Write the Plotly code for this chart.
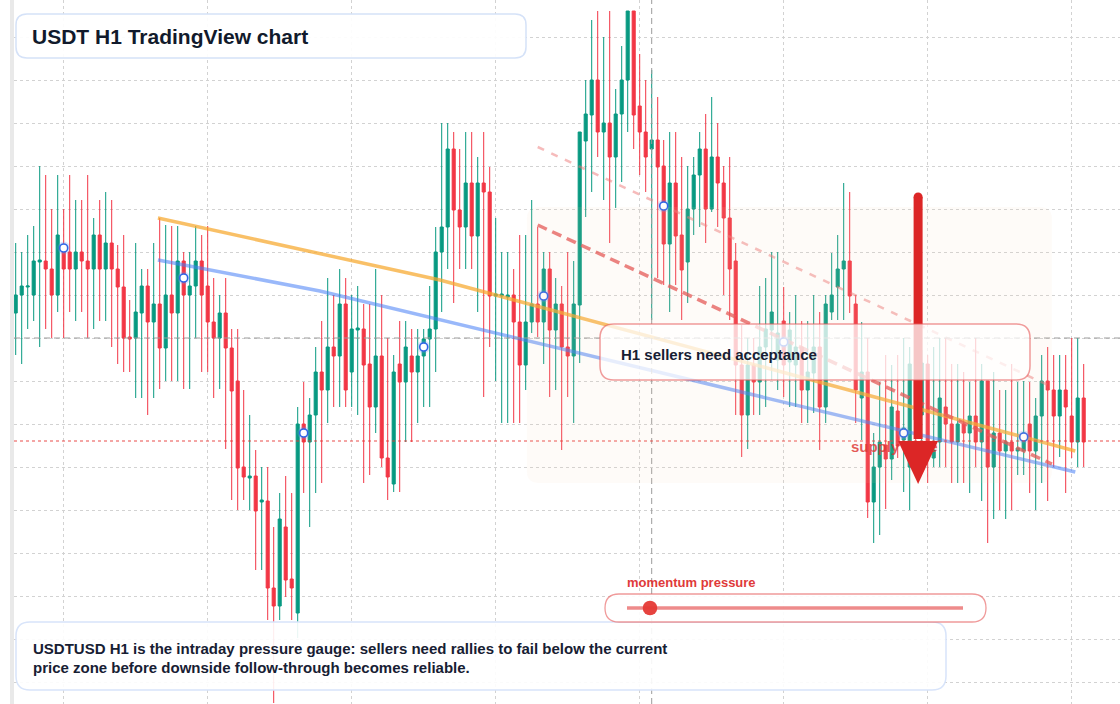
import plotly.graph_objects as go

W, H = 1120, 704
ML = 14  # left margin in px (gray strip sits left of the plot)

# ---------------- data (USDT/USD, H1 bars) ----------------
OPEN = [0.999687,0.999705,0.999713,0.999705,0.999738,0.999739,0.999731,0.999705,0.999748,0.999748,
        0.999731,0.999748,0.999739,0.999731,0.999765,0.999731,0.999757,0.999731,0.999713,0.999663,
        0.999662,0.999687,0.999714,0.999678,0.999696,0.999652,0.999705,0.999687,0.999739,0.999705,
        0.999714,0.999739,0.999714,0.999678,0.999662,0.999687,0.999652,0.999619,0.999533,0.999522,
        0.999524,0.999498,0.999499,0.999412,0.999394,0.999473,0.999421,0.999387,0.999576,0.999558,
        0.999585,0.999628,0.999610,0.999653,0.999644,0.999696,0.999628,0.999670,0.999671,0.999636,
        0.999593,0.999644,0.999542,0.999516,0.999636,0.999618,0.999644,0.999628,0.999644,0.999661,
        0.999671,0.999748,0.999773,0.999851,0.999790,0.999773,0.999817,0.999764,0.999817,0.999808,
        0.999704,0.999704,0.999703,0.999705,0.999678,0.999635,0.999678,0.999696,0.999678,0.999731,
        0.999670,0.999696,0.999653,0.999644,0.999695,0.999859,0.999885,0.999920,0.999868,0.999877,
        0.999843,0.999886,0.999920,0.999989,0.999894,0.999868,0.999851,0.999860,0.999834,0.999756,
        0.999817,0.999765,0.999738,0.999791,0.999825,0.999851,0.999791,0.999843,0.999817,0.999782,
        0.999739,0.999635,0.999585,0.999635,0.999618,0.999653,0.999670,0.999640,0.999679,0.999638,
        0.999635,0.999653,0.999610,0.999627,0.999653,0.999593,0.999688,0.999713,0.999731,0.999739,
        0.999696,0.999602,0.999628,0.999498,0.999533,0.999555,0.999541,0.999589,0.999560,0.999533,
        0.999620,0.999585,0.999636,0.999542,0.999558,0.999593,0.999576,0.999558,0.999576,0.999567,
        0.999584,0.999558,0.999619,0.999533,0.999567,0.999549,0.999558,0.999549,0.999549,0.999576,
        0.999549,0.999584,0.999619,0.999610,0.999584,0.999610,0.999584,0.999558,0.999602]
HIGH = [0.999757,0.999748,0.999765,0.999774,0.999834,0.999825,0.999791,0.999825,0.999791,0.999825,
        0.999800,0.999800,0.999825,0.999782,0.999800,0.999808,0.999800,0.999755,0.999765,0.999700,
        0.999757,0.999731,0.999731,0.999757,0.999782,0.999775,0.999774,0.999774,0.999748,0.999748,
        0.999774,0.999765,0.999774,0.999722,0.999705,0.999722,0.999671,0.999671,0.999610,0.999585,
        0.999550,0.999533,0.999533,0.999473,0.999507,0.999524,0.999507,0.999593,0.999618,0.999602,
        0.999653,0.999679,0.999722,0.999705,0.999731,0.999722,0.999705,0.999714,0.999696,0.999696,
        0.999731,0.999705,0.999662,0.999645,0.999679,0.999679,0.999671,0.999671,0.999671,0.999714,
        0.999773,0.999877,0.999877,0.999868,0.999851,0.999868,0.999868,0.999843,0.999868,0.999833,
        0.999782,0.999748,0.999748,0.999731,0.999765,0.999765,0.999800,0.999773,0.999748,0.999748,
        0.999722,0.999714,0.999748,0.999739,0.999868,0.999920,0.999980,0.999989,0.999963,0.999989,
        0.999911,0.999954,0.999989,0.999989,0.999946,0.999920,0.999930,0.999903,0.999860,0.999868,
        0.999868,0.999843,0.999834,0.999843,0.999868,0.999886,0.999903,0.999877,0.999834,0.999843,
        0.999757,0.999675,0.999662,0.999662,0.999714,0.999722,0.999748,0.999748,0.999713,0.999688,
        0.999705,0.999679,0.999679,0.999705,0.999688,0.999705,0.999747,0.999765,0.999817,0.999808,
        0.999705,0.999678,0.999662,0.999567,0.999618,0.999645,0.999635,0.999645,0.999662,0.999653,
        0.999660,0.999650,0.999645,0.999653,0.999662,0.999662,0.999636,0.999636,0.999628,0.999618,
        0.999662,0.999636,0.999619,0.999628,0.999610,0.999610,0.999636,0.999618,0.999619,0.999618,
        0.999602,0.999645,0.999653,0.999645,0.999645,0.999645,0.999662,0.999662,0.999636]
LOW = [0.999645,0.999636,0.999671,0.999679,0.999653,0.999671,0.999662,0.999688,0.999662,0.999688,
       0.999679,0.999688,0.999662,0.999671,0.999679,0.999679,0.999653,0.999636,0.999628,0.999628,
       0.999602,0.999602,0.999585,0.999602,0.999611,0.999619,0.999619,0.999619,0.999611,0.999611,
       0.999662,0.999628,0.999628,0.999602,0.999611,0.999551,0.999500,0.999490,0.999500,0.999490,
       0.999430,0.999430,0.999380,0.999297,0.999380,0.999403,0.999380,0.999362,0.999507,0.999473,
       0.999507,0.999517,0.999577,0.999593,0.999593,0.999593,0.999593,0.999585,0.999517,0.999525,
       0.999567,0.999533,0.999500,0.999508,0.999508,0.999558,0.999558,0.999577,0.999593,0.999593,
       0.999628,0.999688,0.999731,0.999697,0.999731,0.999731,0.999731,0.999688,0.999603,0.999653,
       0.999619,0.999577,0.999577,0.999577,0.999577,0.999610,0.999667,0.999663,0.999636,0.999603,
       0.999610,0.999550,0.999603,0.999577,0.999637,0.999783,0.999808,0.999843,0.999800,0.999757,
       0.999792,0.999818,0.999868,0.999851,0.999825,0.999808,0.999680,0.999722,0.999715,0.999688,
       0.999715,0.999680,0.999697,0.999765,0.999773,0.999757,0.999788,0.999773,0.999705,0.999680,
       0.999585,0.999543,0.999551,0.999585,0.999585,0.999593,0.999620,0.999610,0.999603,0.999593,
       0.999593,0.999577,0.999577,0.999587,0.999550,0.999577,0.999680,0.999680,0.999680,0.999687,
       0.999577,0.999560,0.999482,0.999457,0.999465,0.999491,0.999520,0.999542,0.999508,0.999490,
       0.999530,0.999533,0.999517,0.999533,0.999533,0.999533,0.999517,0.999517,0.999517,0.999507,
       0.999533,0.999499,0.999457,0.999481,0.999490,0.999481,0.999490,0.999525,0.999525,0.999507,
       0.999490,0.999517,0.999499,0.999533,0.999543,0.999507,0.999542,0.999533,0.999533]
CLOSE = [0.999705,0.999714,0.999714,0.999739,0.999740,0.999731,0.999705,0.999765,0.999731,0.999731,
         0.999748,0.999739,0.999731,0.999765,0.999731,0.999757,0.999731,0.999713,0.999662,0.999661,
         0.999688,0.999714,0.999678,0.999696,0.999652,0.999705,0.999687,0.999739,0.999705,0.999714,
         0.999739,0.999705,0.999678,0.999662,0.999687,0.999652,0.999609,0.999532,0.999523,0.999524,
         0.999489,0.999500,0.999412,0.999394,0.999481,0.999420,0.999412,0.999576,0.999558,0.999585,
         0.999628,0.999610,0.999653,0.999644,0.999696,0.999610,0.999671,0.999672,0.999635,0.999593,
         0.999644,0.999542,0.999523,0.999628,0.999618,0.999653,0.999628,0.999644,0.999661,0.999671,
         0.999748,0.999773,0.999851,0.999790,0.999773,0.999817,0.999764,0.999817,0.999808,0.999704,
         0.999706,0.999706,0.999705,0.999678,0.999635,0.999678,0.999696,0.999678,0.999731,0.999670,
         0.999696,0.999653,0.999644,0.999696,0.999868,0.999886,0.999920,0.999868,0.999877,0.999843,
         0.999886,0.999920,0.999989,0.999885,0.999868,0.999843,0.999860,0.999833,0.999756,0.999817,
         0.999764,0.999730,0.999791,0.999825,0.999851,0.999791,0.999843,0.999817,0.999782,0.999731,
         0.999635,0.999585,0.999635,0.999618,0.999653,0.999671,0.999688,0.999667,0.999635,0.999670,
         0.999653,0.999610,0.999628,0.999653,0.999593,0.999696,0.999705,0.999731,0.999739,0.999704,
         0.999610,0.999628,0.999498,0.999533,0.999558,0.999541,0.999593,0.999554,0.999572,0.999636,
         0.999580,0.999637,0.999555,0.999550,0.999602,0.999576,0.999558,0.999576,0.999567,0.999584,
         0.999558,0.999619,0.999533,0.999567,0.999549,0.999558,0.999549,0.999552,0.999567,0.999549,
         0.999584,0.999619,0.999610,0.999584,0.999610,0.999593,0.999558,0.999602,0.999558]
BARS = list(range(len(OPEN)))

MARK_BARS = [8, 28, 48, 68, 88, 108, 128, 148, 168]
MARK_PRICE = [0.999752, 0.999722, 0.999567, 0.999653, 0.999704, 0.999794, 0.999658, 0.999567, 0.999563]

ORANGE_X = [23.7, 70.7, 176.6]
ORANGE_Y = [0.999782, 0.999720, 0.999549]
BLUE_X = [23.7, 50.7, 176.6]
BLUE_Y = [0.999740, 0.999709, 0.999528]
CHAN_X = [87.0, 172.7]
CHAN_LOW = [0.999775, 0.999536]
CHAN_HIGH = [0.999853, 0.999613]

CROSS_BAR = 106
CROSS_PRICE = 0.999662
SUPPORT_PRICE = 0.999559
ZONE_X = [85.2, 172.7]
ZONE_Y = [0.999517, 0.999793]
ARROW_BAR = 150.4
ARROW_FROM = 0.999803
ARROW_HEAD = 0.999559
ARROW_TIP = 0.999516

X_RANGE = [-0.2833, 184.05]
Y_RANGE = [0.999296, 1.000000]

FONT = "Liberation Sans, Arial, sans-serif"
UP, DOWN = "#089981", "#f23645"

# ---------------- helpers (pixel -> paper) ----------------
PW = W - ML
def PX(x):
    return (x - ML) / PW
def PY(y):
    return 1 - y / H

def rrect(xl, xr, yb, yt, rx, ry):
    return (f"M {xl+rx},{yt} L {xr-rx},{yt} Q {xr},{yt} {xr},{yt-ry} "
            f"L {xr},{yb+ry} Q {xr},{yb} {xr-rx},{yb} L {xl+rx},{yb} "
            f"Q {xl},{yb} {xl},{yb+ry} L {xl},{yt-ry} Q {xl},{yt} {xl+rx},{yt} Z")

def rrect_px(x0, y0, x1, y1, r):
    return rrect(PX(x0), PX(x1), PY(y1), PY(y0), r / PW, r / H)

fig = go.Figure()

fig.add_trace(go.Candlestick(
    x=BARS, open=OPEN, high=HIGH, low=LOW, close=CLOSE,
    increasing=dict(line=dict(color=UP, width=1), fillcolor=UP),
    decreasing=dict(line=dict(color=DOWN, width=1), fillcolor=DOWN),
    whiskerwidth=0, showlegend=False, hoverinfo="skip"))

fig.add_trace(go.Scatter(x=ORANGE_X, y=ORANGE_Y, mode="lines",
                         line=dict(color="rgba(247,168,45,0.72)", width=3.5),
                         showlegend=False, hoverinfo="skip"))
fig.add_trace(go.Scatter(x=BLUE_X, y=BLUE_Y, mode="lines",
                         line=dict(color="rgba(70,125,245,0.55)", width=3.5),
                         showlegend=False, hoverinfo="skip"))
fig.add_trace(go.Scatter(x=CHAN_X, y=CHAN_LOW, mode="lines",
                         line=dict(color="rgba(228,80,80,0.75)", width=3.5, dash="10px,6px"),
                         showlegend=False, hoverinfo="skip"))
fig.add_trace(go.Scatter(x=CHAN_X, y=CHAN_HIGH, mode="lines",
                         line=dict(color="rgba(238,120,120,0.5)", width=2.5, dash="7px,8px"),
                         showlegend=False, hoverinfo="skip"))

fig.add_trace(go.Scatter(x=MARK_BARS, y=MARK_PRICE, mode="markers",
                         marker=dict(size=13, color="rgba(110,150,245,0.25)", line=dict(width=0)),
                         showlegend=False, hoverinfo="skip"))
fig.add_trace(go.Scatter(x=MARK_BARS, y=MARK_PRICE, mode="markers",
                         marker=dict(size=8, color="white", line=dict(color="#2f66e8", width=1.6)),
                         showlegend=False, hoverinfo="skip"))

fig.add_trace(go.Scatter(x=[139.2], y=[0.999552], mode="text", text=["<b>supply zone</b>"],
                         textposition="middle right",
                         textfont=dict(family=FONT, size=15, color="rgba(220,38,38,0.82)"),
                         showlegend=False, hoverinfo="skip"))

shapes = []
# gray strip at left
shapes.append(dict(type="rect", xref="paper", yref="paper", x0=PX(10), x1=PX(14), y0=0, y1=1,
                   fillcolor="#e9e9e9", line=dict(width=0), layer="below"))
# crosshair + support line
shapes.append(dict(type="line", xref="paper", yref="y", x0=0, x1=1, y0=CROSS_PRICE, y1=CROSS_PRICE,
                   line=dict(color="#9c9c9c", width=1, dash="6px,4px"), layer="above"))
shapes.append(dict(type="line", xref="x", yref="paper", x0=CROSS_BAR, x1=CROSS_BAR, y0=0, y1=1,
                   line=dict(color="#9c9c9c", width=1, dash="6px,4px"), layer="above"))
shapes.append(dict(type="line", xref="paper", yref="y", x0=0, x1=1, y0=SUPPORT_PRICE, y1=SUPPORT_PRICE,
                   line=dict(color="rgba(229,57,53,0.9)", width=1.2, dash="dot"), layer="above"))
# supply zone
shapes.append(dict(type="path", xref="x", yref="y",
                   path=rrect(ZONE_X[0], ZONE_X[1], ZONE_Y[0], ZONE_Y[1], 2.0, 12e-6),
                   fillcolor="rgba(245,212,180,0.09)", line=dict(width=0), layer="above"))
# arrow
shapes.append(dict(type="line", xref="x", yref="y", x0=ARROW_BAR, x1=ARROW_BAR,
                   y0=ARROW_FROM, y1=ARROW_HEAD + 2e-6,
                   line=dict(color="#dc2626", width=9), layer="above"))
shapes.append(dict(type="circle", xref="x", yref="y", x0=ARROW_BAR - 0.75, x1=ARROW_BAR + 0.75,
                   y0=ARROW_FROM - 4.5e-6, y1=ARROW_FROM + 4.5e-6,
                   fillcolor="#dc2626", line=dict(width=0), layer="above"))
shapes.append(dict(type="path", xref="x", yref="y",
                   path=f"M {ARROW_BAR-3.33},{ARROW_HEAD} L {ARROW_BAR+3.33},{ARROW_HEAD} L {ARROW_BAR},{ARROW_TIP} Z",
                   fillcolor="#dc2626", line=dict(width=0), layer="above"))
# title box
shapes.append(dict(type="path", xref="paper", yref="paper", path=rrect_px(16, 14, 526, 58, 11),
                   fillcolor="rgba(255,255,255,0.92)", line=dict(color="#d5e2f8", width=1.5), layer="above"))
# bottom text box
shapes.append(dict(type="path", xref="paper", yref="paper", path=rrect_px(16, 622, 946, 690, 14),
                   fillcolor="rgba(255,255,255,0.9)", line=dict(color="#d8e4fa", width=1.5), layer="above"))
# H1 box
shapes.append(dict(type="path", xref="paper", yref="paper", path=rrect_px(600, 324, 1030, 380, 14),
                   fillcolor="rgba(255,255,255,0.74)", line=dict(color="rgba(230,90,90,0.6)", width=1.5),
                   layer="above"))
# momentum slider
shapes.append(dict(type="path", xref="paper", yref="paper", path=rrect_px(605, 594, 986, 622, 14),
                   fillcolor="rgba(255,255,255,0.9)", line=dict(color="rgba(232,100,100,0.65)", width=1.3),
                   layer="above"))
shapes.append(dict(type="line", xref="paper", yref="paper", x0=PX(627), x1=PX(963), y0=PY(608), y1=PY(608),
                   line=dict(color="rgba(234,110,110,0.8)", width=3.5), layer="above"))
shapes.append(dict(type="circle", xref="paper", yref="paper", x0=PX(650 - 7.3), x1=PX(650 + 7.3),
                   y0=PY(608 + 7.3), y1=PY(608 - 7.3), fillcolor="#e53935",
                   line=dict(width=0), opacity=0.95, layer="above"))

annotations = [
    dict(text="<b>USDT H1 TradingView chart</b>", x=PX(30), y=PY(36), xref="paper", yref="paper",
         xanchor="left", yanchor="middle", showarrow=False,
         font=dict(family=FONT, size=21, color="#111a2c")),
    dict(text="<b>USDTUSD H1 is the intraday pressure gauge: sellers need rallies to fail below the current</b>",
         x=PX(31), y=PY(648), xref="paper", yref="paper", xanchor="left", yanchor="middle",
         showarrow=False, font=dict(family=FONT, size=15, color="#172033")),
    dict(text="<b>price zone before downside follow-through becomes reliable.</b>",
         x=PX(31), y=PY(667), xref="paper", yref="paper", xanchor="left", yanchor="middle",
         showarrow=False, font=dict(family=FONT, size=15, color="#172033")),
    dict(text="<b>H1 sellers need acceptance</b>", x=PX(619), y=PY(354), xref="paper", yref="paper",
         xanchor="left", yanchor="middle", showarrow=False,
         font=dict(family=FONT, size=15, color="#172033")),
    dict(text="<b>momentum pressure</b>", x=PX(625), y=PY(582), xref="paper", yref="paper",
         xanchor="left", yanchor="middle", showarrow=False,
         font=dict(family=FONT, size=13, color="#e03a3a")),
]

fig.update_layout(
    width=W, height=H,
    margin=dict(l=ML, r=0, t=0, b=0, pad=0),
    paper_bgcolor="white", plot_bgcolor="white",
    showlegend=False, boxgap=0.27,
    shapes=shapes, annotations=annotations,
    xaxis=dict(range=X_RANGE, showticklabels=False, ticks="", zeroline=False, showline=False,
               showgrid=True, gridcolor="#d2d2d2", griddash="dot", gridwidth=1,
               tick0=8, dtick=24, rangeslider=dict(visible=False), fixedrange=True),
    yaxis=dict(range=Y_RANGE, showticklabels=False, ticks="", zeroline=False, showline=False,
               showgrid=True, gridcolor="#d2d2d2", griddash="dot", gridwidth=1,
               tick0=0.999963, dtick=0.000043, fixedrange=True),
)

fig.write_html("out.html", config={"displayModeBar": False})
